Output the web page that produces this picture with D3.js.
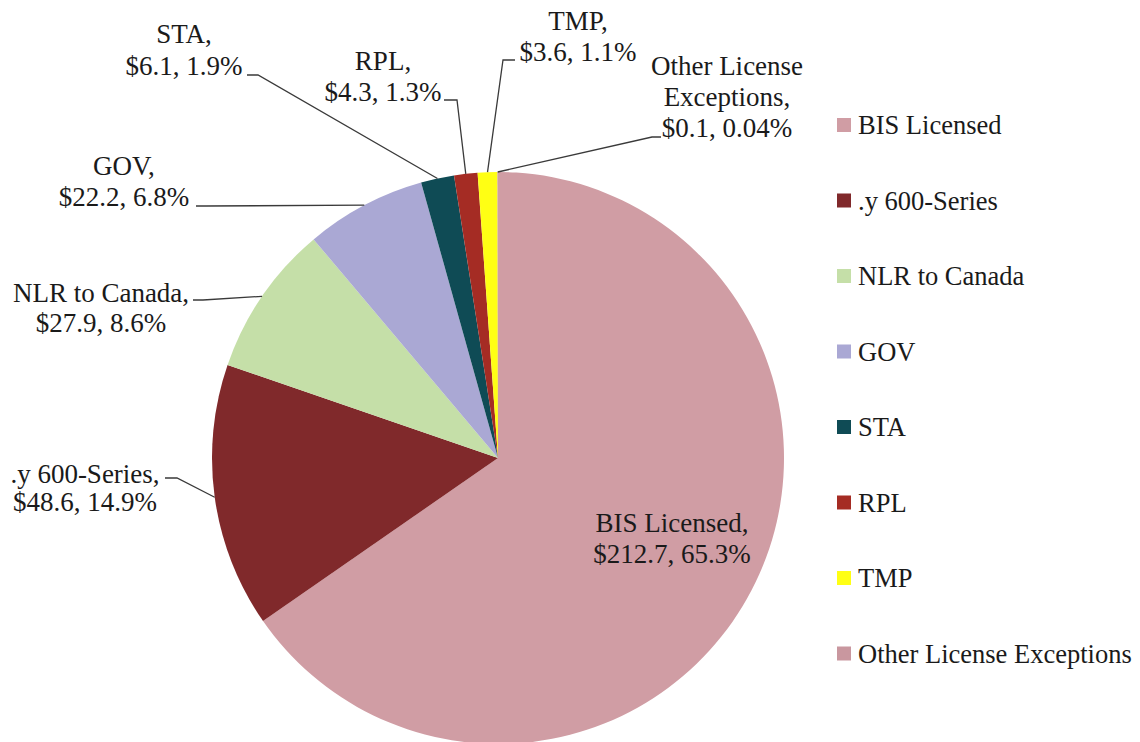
<!DOCTYPE html>
<html>
<head>
<meta charset="utf-8">
<script src="https://cdn.jsdelivr.net/npm/d3@7"></script>
<style>
  html, body { margin: 0; padding: 0; background: #ffffff; }
  svg { display: block; }
</style>
</head>
<body>
<svg id="chart" width="1140" height="742" font-family="'Liberation Serif', 'Times New Roman', 'DejaVu Serif', serif"></svg>
<script>
// ---- data ----
const categories = ["BIS Licensed", ".y 600-Series", "NLR to Canada", "GOV", "STA", "RPL", "TMP", "Other License Exceptions"];
const labelNames = [["BIS Licensed,"], [".y 600-Series,"], ["NLR to Canada,"], ["GOV,"], ["STA,"], ["RPL,"], ["TMP,"], ["Other License", "Exceptions,"]];
const values = [212.7, 48.6, 27.9, 22.2, 6.1, 4.3, 3.6, 0.1];
const valueLabels = ["$212.7", "$48.6", "$27.9", "$22.2", "$6.1", "$4.3", "$3.6", "$0.1"];
const percentLabels = ["65.3%", "14.9%", "8.6%", "6.8%", "1.9%", "1.3%", "1.1%", "0.04%"];
const colors = ["#d09da4", "#80292b", "#c5dfa8", "#aaa8d4", "#0f4b55", "#a52c24", "#ffff14", "#c9979f"];

// ---- layout ----
const FONT = "'Liberation Serif', 'Times New Roman', 'DejaVu Serif', serif";
const cx = 498, cy = 458, R = 286;
const fontSize = 27, lineH = 31;
// label placement: centre x, first baseline y, leader start (label side) and stub end
const labelLayout = [
  { x: 672, y: 532, leader: null },
  { x: 85,  y: 483, lh: 28, leader: [165, 478, 177, 478] },
  { x: 101, y: 302, lh: 30, leader: [193, 300, 203, 300] },
  { x: 124, y: 175, leader: [196, 206, 206, 206] },
  { x: 184, y: 43,  lh: 32, leader: [247, 75, 258, 75] },
  { x: 383, y: 70,  leader: [444, 100, 457, 100] },
  { x: 578, y: 30,  leader: [515, 60, 503, 60] },
  { x: 727, y: 75,  leader: [661, 137, 652, 137] }
];

const svg = d3.select("#chart");
const g = svg.append("g").attr("transform", `translate(${cx},${cy})`);

const pie = d3.pie().sort(null).value(d => d).startAngle(0).endAngle(2 * Math.PI);
const arcs = pie(values);
const arc = d3.arc().innerRadius(0).outerRadius(R);
const edgeArc = d3.arc().innerRadius(R).outerRadius(R);

g.selectAll("path.slice")
  .data(arcs)
  .join("path")
  .attr("class", "slice")
  .attr("d", arc)
  .attr("fill", (d, i) => colors[i]);

// leader lines
const leaders = svg.append("g");
arcs.forEach((a, i) => {
  const L = labelLayout[i].leader;
  if (!L) return;
  const p = edgeArc.centroid(a);
  const path = d3.path();
  path.moveTo(L[0], L[1]);
  path.lineTo(L[2], L[3]);
  path.lineTo(cx + p[0], cy + p[1]);
  leaders.append("path")
    .attr("d", path.toString())
    .attr("fill", "none")
    .attr("stroke", "#3a3a3a")
    .attr("stroke-width", 1.3);
});

// data labels
const labels = svg.append("g");
arcs.forEach((a, i) => {
  const lay = labelLayout[i];
  const lines = labelNames[i].concat([`${valueLabels[i]}, ${percentLabels[i]}`]);
  const t = labels.append("text")
    .attr("text-anchor", "middle")
    .attr("font-family", FONT)
    .attr("font-size", fontSize)
    .attr("fill", "#1a1a1a")
    .attr("x", lay.x)
    .attr("y", lay.y);
  lines.forEach((ln, k) => {
    t.append("tspan")
      .attr("x", lay.x)
      .attr("y", lay.y + k * (lay.lh || lineH))
      .text(ln);
  });
});

// legend
const legendY0 = 125, legendStep = 75.5, legendX = 837, sq = 14;
const leg = svg.append("g");
const items = leg.selectAll("g.item")
  .data(categories)
  .join("g")
  .attr("class", "item")
  .attr("transform", (d, i) => `translate(${legendX},${legendY0 + i * legendStep})`);
items.append("rect")
  .attr("x", 0).attr("y", -sq / 2)
  .attr("width", sq).attr("height", sq)
  .attr("fill", (d, i) => colors[i]);
items.append("text")
  .attr("x", 21)
  .attr("y", 9)
  .attr("font-family", FONT)
  .attr("font-size", 26.5)
  .attr("fill", "#1a1a1a")
  .text(d => d);
</script>
</body>
</html>
